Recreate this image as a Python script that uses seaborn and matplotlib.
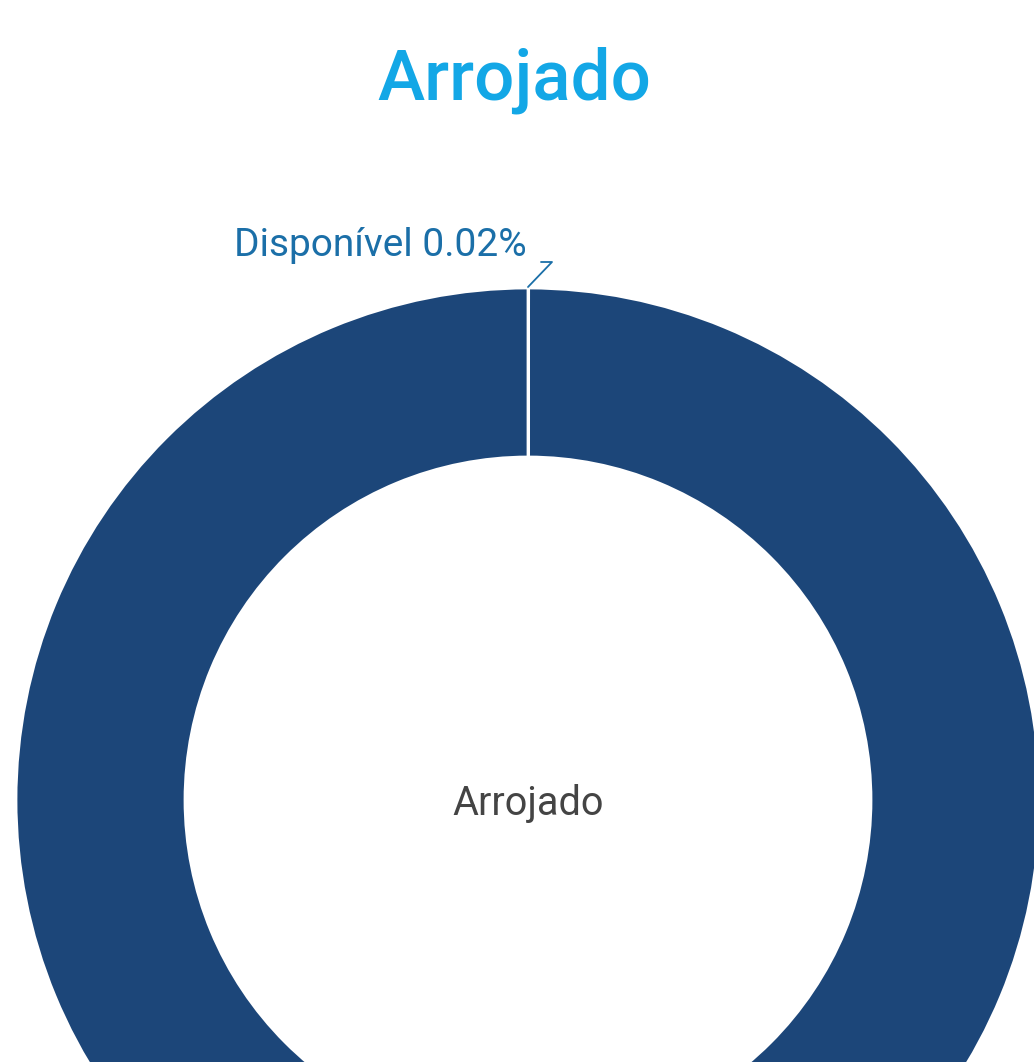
import matplotlib
matplotlib.use("Agg")
import matplotlib.pyplot as plt
import seaborn as sns

categorias = ["Disponível", "Arrojado"]
valores = [0.02, 99.98]
cores = ["#1c4679", "#1c4679"]
titulo = "Arrojado"

sns.set_theme(style="white")
plt.rcParams['font.family'] = ['Roboto', 'DejaVu Sans']

fig = plt.figure(figsize=(10.34, 10.62), dpi=100)
ax = fig.add_axes([0, 0, 1, 1])

cx, cy = 528, 1062 - 800
r_ext = 512
espessura = 169

wedges, _ = ax.pie(valores, colors=cores, startangle=90, counterclock=False,
                   center=(cx, cy), radius=r_ext,
                   wedgeprops=dict(width=espessura, edgecolor='white', linewidth=2))

# pie() redefine os limites, então fixar depois
ax.set_xlim(0, 1034)
ax.set_ylim(0, 1062)
ax.set_aspect('equal')
ax.axis('off')

# rótulo da fatia pequena
ax.plot([528, 552, 541], [1062 - 287, 1062 - 262, 1062 - 262], color='#1b6fa8', lw=1.3)
ax.text(527, 1062 - 256, f"{categorias[0]} {valores[0]:.2f}%", ha='right', va='baseline',
        fontsize=28, color='#1b6fa8')

ax.text(cx, 1062 - 815, categorias[1], ha='center', va='baseline', fontsize=28.5, color='#444444')

fig.text(514 / 1034, 1 - 100 / 1062, titulo, ha='center', va='baseline',
         fontsize=51, fontweight='medium', color='#13a7e6')

fig.savefig('out.png', dpi=100)
